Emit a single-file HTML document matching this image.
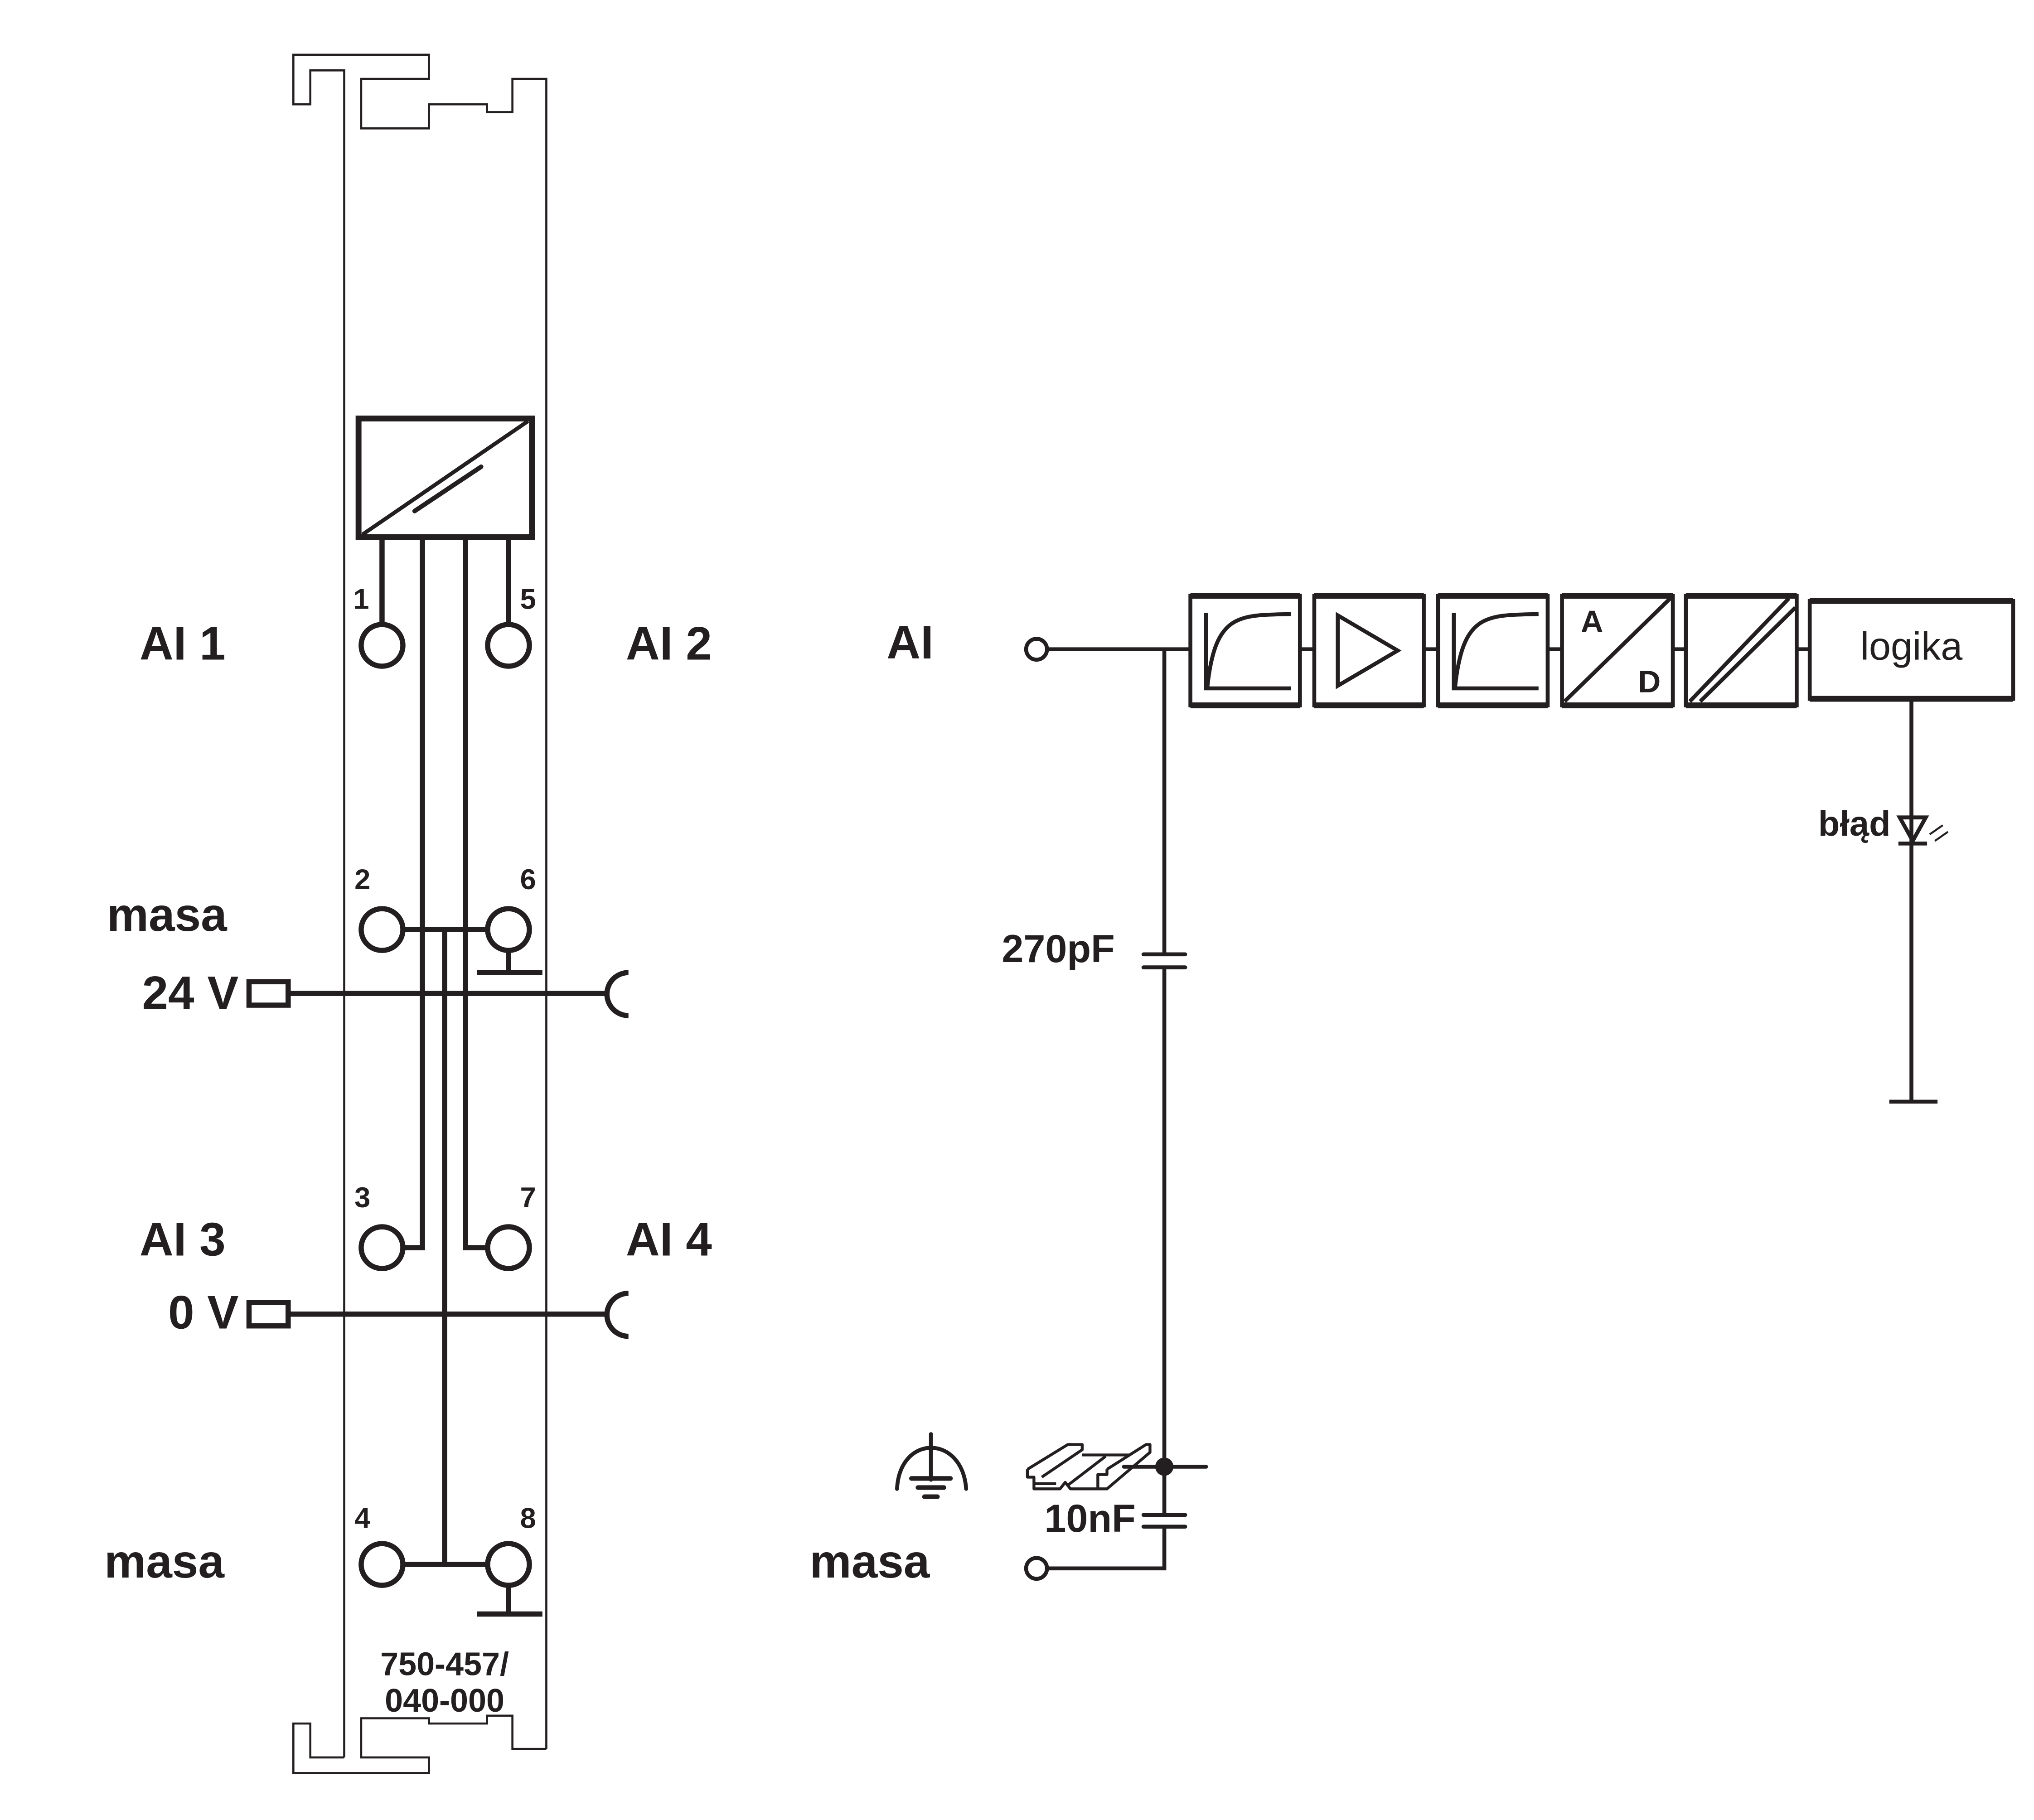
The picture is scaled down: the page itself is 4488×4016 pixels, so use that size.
<!DOCTYPE html>
<html><head><meta charset="utf-8"><style>
html,body{margin:0;padding:0;background:#fff}
svg{display:block}
text{font-family:"Liberation Sans",sans-serif;font-weight:bold;fill:#231f20}
</style></head><body>
<svg width="4488" height="4016" viewBox="0 0 1560 1396" preserveAspectRatio="none" xmlns="http://www.w3.org/2000/svg">
<g fill="none" stroke="#231f20" stroke-linejoin="miter">
<path stroke-width="1.6" d="M264,1348 L264,54 L238,54 L238,80 L225,80 L225,42 L329,42 L329,60.5 L277,60.5 L277,98.5 L329,98.5 L329,80 L373.5,80 L373.5,86 L393,86 L393,60.5 L419,60.5 L419,1341.5"/>
<path stroke-width="1.6" d="M264,1348 L238,1348 L238,1322 L225,1322 L225,1360 L329,1360 L329,1348 L277,1348 L277,1318 L329,1318 L329,1322 L373.5,1322 L373.5,1316 L393,1316 L393,1341.5 L419,1341.5"/>
<rect x="275" y="321" width="133" height="91" stroke-width="4.5"/>
<line x1="278" y1="410" x2="405" y2="323" stroke-width="3"/>
<line x1="318" y1="392" x2="369" y2="358" stroke-width="3.5" stroke-linecap="round"/>
<g stroke-width="4">
<line x1="293" y1="412" x2="293" y2="479"/>
<line x1="390" y1="412" x2="390" y2="479"/>
<polyline points="324,412 324,957 309,957"/>
<polyline points="357,412 357,957 374,957"/>
<line x1="341" y1="713" x2="341" y2="1200"/>
<line x1="309" y1="713" x2="374" y2="713"/>
<line x1="309" y1="1200" x2="374" y2="1200"/>
<line x1="390" y1="729" x2="390" y2="746"/>
<line x1="366" y1="746" x2="416" y2="746"/>
<line x1="390" y1="1216" x2="390" y2="1238"/>
<line x1="366" y1="1238" x2="416" y2="1238"/>
<line x1="221" y1="762" x2="466" y2="762"/>
<line x1="221" y1="1008" x2="466" y2="1008"/>
<rect x="191" y="753" width="30" height="18"/>
<rect x="191" y="999" width="30" height="18"/>
<path d="M482,746 A16,16 0 0 0 482,779"/>
<path d="M482,992 A16,16 0 0 0 482,1025"/>
<circle cx="293" cy="495" r="16"/>
<circle cx="390" cy="495" r="16"/>
<circle cx="293" cy="713" r="16"/>
<circle cx="390" cy="713" r="16"/>
<circle cx="293" cy="957" r="16"/>
<circle cx="390" cy="957" r="16"/>
<circle cx="293" cy="1200" r="16"/>
<circle cx="390" cy="1200" r="16"/>
</g>
<g stroke-width="3">
<circle cx="795" cy="498" r="8"/>
<line x1="803" y1="498" x2="913" y2="498"/>
<line x1="893" y1="498" x2="893" y2="732"/>
<line x1="893" y1="742" x2="893" y2="1162"/>
<line x1="877" y1="732" x2="909" y2="732" stroke-linecap="round"/>
<line x1="877" y1="742" x2="909" y2="742" stroke-linecap="round"/>
<line x1="877" y1="1162" x2="909" y2="1162" stroke-linecap="round"/>
<line x1="877" y1="1171" x2="909" y2="1171" stroke-linecap="round"/>
<polyline points="893,1171 893,1203 803,1203"/>
<circle cx="795" cy="1203" r="8"/>
<line x1="862" y1="1125" x2="925" y2="1125" stroke-linecap="round"/>
<rect x="913" y="457" width="84" height="84"/>
<rect x="1008" y="457" width="84" height="84"/>
<rect x="1103" y="457" width="84" height="84"/>
<rect x="1198" y="457" width="85" height="84"/>
<rect x="1293" y="457" width="85" height="84"/>
<rect x="1388" y="461" width="156" height="75"/>
<line x1="997" y1="498" x2="1008" y2="498"/>
<line x1="1092" y1="498" x2="1103" y2="498"/>
<line x1="1187" y1="498" x2="1198" y2="498"/>
<line x1="1283" y1="498" x2="1293" y2="498"/>
<line x1="1378" y1="498" x2="1388" y2="498"/>
<polyline points="925,470 925,528 990,528"/>
<path d="M926,527 C932,470 950,472 990,471"/>
<polygon points="1026,472 1026,526 1072,499"/>
<polyline points="1115,470 1115,528 1180,528"/>
<path d="M1116,527 C1122,470 1140,472 1180,471"/>
<line x1="1200" y1="538" x2="1281" y2="459"/>
<line x1="1296" y1="538" x2="1372" y2="459"/>
<line x1="1304" y1="538" x2="1377" y2="466"/>
<line x1="1466" y1="536" x2="1466" y2="845"/>
<line x1="1449" y1="845" x2="1486" y2="845"/>
<polygon points="1457,627 1477,627 1467,645"/>
<line x1="1456" y1="647" x2="1478" y2="647"/>
</g>
<g stroke-width="1.5">
<line x1="1480" y1="640" x2="1490" y2="633"/><line x1="1484" y1="645" x2="1494" y2="638"/>
</g>
<g stroke-width="4.5">
<line x1="913" y1="457" x2="997" y2="457"/><line x1="913" y1="541" x2="997" y2="541"/>
<line x1="1008" y1="457" x2="1092" y2="457"/><line x1="1008" y1="541" x2="1092" y2="541"/>
<line x1="1103" y1="457" x2="1187" y2="457"/><line x1="1103" y1="541" x2="1187" y2="541"/>
<line x1="1198" y1="457" x2="1283" y2="457"/><line x1="1198" y1="541" x2="1283" y2="541"/>
<line x1="1293" y1="457" x2="1378" y2="457"/><line x1="1293" y1="541" x2="1378" y2="541"/>
<line x1="1388" y1="461" x2="1544" y2="461"/><line x1="1388" y1="536" x2="1544" y2="536"/>
</g>
<g stroke-width="3" stroke-linecap="round">
<path d="M688,1142 C690,1100 738,1100 741,1142"/>
<line x1="714" y1="1100" x2="714" y2="1135"/>
<line x1="699" y1="1134" x2="729" y2="1134" stroke-width="3.5"/>
<line x1="704" y1="1141" x2="724" y2="1141" stroke-width="3.5"/>
<line x1="709" y1="1148" x2="719" y2="1148" stroke-width="3.5"/>
</g>
<!-- rail -->
<g stroke-width="2.2" stroke-linejoin="round">
<path d="M788,1127 L819,1108 L830,1108 L830,1112 L799,1133"/>
<path d="M830,1116 L866,1116"/>
<path d="M788,1127 L788,1133 L793,1133 L793,1142 L813,1142 L817,1137 L821,1142 L842,1142 L842,1131 L849,1131 L849,1127"/>
<path d="M849,1127 L879,1108 L882,1108 L882,1114 L849,1142 L842,1142"/>
<path d="M818,1140 L848,1117"/>
<path d="M793,1138 L810,1138"/>
</g>
</g>
<circle cx="893" cy="1125" r="7" fill="#231f20"/>
<g font-size="22" text-anchor="middle">
<text x="277" y="467">1</text><text x="405" y="467">5</text>
<text x="278" y="682">2</text><text x="405" y="682">6</text>
<text x="278" y="926">3</text><text x="405" y="926">7</text>
<text x="278" y="1172">4</text><text x="405" y="1172">8</text>
</g>
<g font-size="36">
<text x="107" y="506">AI 1</text>
<text x="480" y="506">AI 2</text>
<text x="82" y="714">masa</text>
<text x="183" y="774" text-anchor="end">24 V</text>
<text x="107" y="963">AI 3</text>
<text x="480" y="963">AI 4</text>
<text x="183" y="1019" text-anchor="end">0 V</text>
<text x="80" y="1210">masa</text>
<text x="680" y="505">AI</text>
<text x="621" y="1210">masa</text>
</g>
<g font-size="25" text-anchor="middle">
<text x="341" y="1285">750-457/</text>
<text x="341" y="1313">040-000</text>
</g>
<text x="855" y="738" font-size="30" text-anchor="end">270pF</text>
<text x="871" y="1175" font-size="30" text-anchor="end">10nF</text>
<text x="1466" y="506" font-size="30" text-anchor="middle" style="font-weight:normal">logika</text>
<text x="1450" y="641" font-size="27" text-anchor="end">błąd</text>
<text x="1221" y="485" font-size="24" text-anchor="middle">A</text>
<text x="1265" y="531" font-size="24" text-anchor="middle">D</text>
</svg>
</body></html>
